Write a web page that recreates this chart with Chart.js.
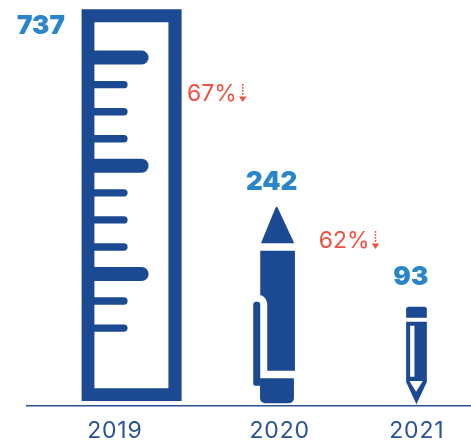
<!DOCTYPE html>
<html>
<head>
<meta charset="utf-8">
<title>Yearly totals</title>
<script src="https://cdn.jsdelivr.net/npm/chart.js@4/dist/chart.umd.min.js"></script>
<style>
  html, body { margin: 0; padding: 0; background: #ffffff; }
  canvas { display: block; }
</style>
</head>
<body>
<canvas id="yearChart" width="471" height="442"></canvas>
<script>
const years = ["2019", "2020", "2021"];
const totals = [737, 242, 93];
const drops = [67, 62];

const BLUE = "#1b4a92";
const VALUE_BLUE = "#2a86c9";
const RED = "#f0503f";
const AXIS_BLUE = "#2b5196";

// category centres as a share of the axis width, the years are not evenly spaced
const slotCenters = [0.198, 0.569, 0.878];

// y axis with a square root transform so the tall icon does not flatten the others
class SqrtScale extends Chart.LinearScale {
  getPixelForValue(value) {
    const a = Math.sqrt(this.min);
    const b = Math.sqrt(this.max);
    // bars start from 0, which is below the axis minimum here
    const v = Math.max(value, this.min);
    return this.getPixelForDecimal((Math.sqrt(v) - a) / (b - a));
  }
  getValueForPixel(pixel) {
    const a = Math.sqrt(this.min);
    const b = Math.sqrt(this.max);
    const s = a + this.getDecimalForPixel(pixel) * (b - a);
    return s * s;
  }
}
SqrtScale.id = "sqrt";
SqrtScale.defaults = Chart.LinearScale.defaults;

class SlotScale extends Chart.CategoryScale {
  getPixelForValue(value, index) {
    const i = typeof value === "number" ? value : index;
    return this.left + slotCenters[i] * this.width;
  }
}
SlotScale.id = "slots";
SlotScale.defaults = Chart.CategoryScale.defaults;

Chart.register(SqrtScale, SlotScale);

// icons are drawn around (0,0) = bar centre on the baseline, y going up is negative
function drawRuler(ctx) {
  ctx.beginPath();
  ctx.rect(-33.3, -396.7, 100, 391.7);
  ctx.rect(-20.5, -383.7, 74, 366);
  ctx.fill("evenodd");
  for (let i = 0; i < 11; i++) {
    const y = -348.4 + i * 27.05;
    const long = i % 4 === 0;
    const half = long ? 7 : 3.7;
    const end = long ? 33.7 : 12.7;
    ctx.beginPath();
    ctx.roundRect(-21, y - half, end + 21, half * 2, [0, half, half, 0]);
    ctx.fill();
  }
}

function drawPen(ctx) {
  // tip
  ctx.beginPath();
  ctx.moveTo(-18.7, -162.7);
  ctx.lineTo(-4.2, -198);
  ctx.quadraticCurveTo(-3, -200.5, -1.8, -198);
  ctx.lineTo(14.6, -162.7);
  ctx.closePath();
  ctx.fill();
  // barrel with the notch for the clip
  ctx.beginPath();
  ctx.moveTo(-19.4, -155.3);
  ctx.lineTo(15.3, -155.3);
  ctx.lineTo(15.3, -35.3);
  ctx.lineTo(-12.4, -35.3);
  ctx.lineTo(-12.4, -102);
  ctx.quadraticCurveTo(-13, -109, -19.4, -111);
  ctx.closePath();
  ctx.fill();
  // clip
  ctx.beginPath();
  ctx.roundRect(-26.4, -104.3, 7, 84, [3, 3, 0, 2]);
  ctx.fill();
  // end cap
  ctx.beginPath();
  ctx.roundRect(-19.6, -27.7, 33.9, 25, [0, 0, 5, 5]);
  ctx.fill();
}

function drawPencil(ctx) {
  ctx.beginPath();
  ctx.roundRect(-10.7, -99.3, 20.7, 11, [2.5, 2.5, 0, 0]);
  ctx.fill();
  ctx.beginPath();
  ctx.moveTo(-10.7, -84.3);
  ctx.lineTo(10, -84.3);
  ctx.lineTo(10, -24);
  ctx.lineTo(-0.4, -1.7);
  ctx.lineTo(-10.7, -24);
  ctx.closePath();
  ctx.rect(-6.7, -80.3, 4.3, 51);
  ctx.moveTo(-7.4, -25);
  ctx.lineTo(6, -25);
  ctx.lineTo(-0.7, -14.3);
  ctx.closePath();
  ctx.fill("evenodd");
}

const icons = [
  { draw: drawRuler, height: 397, labelX: -74, labelY: 17 },
  { draw: drawPen, height: 200, labelX: -8, labelY: -24 },
  { draw: drawPencil, height: 99.5, labelX: -6, labelY: -29 }
];

// where each drop label sits, relative to the bar it follows
const dropOffsets = [
  { x: 72, y: 92 },
  { x: 39, y: 42 }
];

function drawDownArrow(ctx, x, top, bottom) {
  ctx.fillStyle = RED;
  for (let y = top; y < bottom - 6; y += 3) {
    ctx.fillRect(x - 0.75, y, 1.5, 1.8);
  }
  ctx.beginPath();
  ctx.moveTo(x - 3.8, bottom - 5.5);
  ctx.lineTo(x + 3.8, bottom - 5.5);
  ctx.lineTo(x, bottom);
  ctx.closePath();
  ctx.fill();
}

const iconPlugin = {
  id: "iconPlugin",
  beforeDraw(chart) {
    // wider digit spacing for the year labels
    chart.ctx.letterSpacing = "0.8px";
  },
  afterDatasetsDraw(chart) {
    const ctx = chart.ctx;
    const bars = chart.getDatasetMeta(0).data;

    bars.forEach((bar, i) => {
      const icon = icons[i];
      const s = (bar.base - bar.y) / icon.height;
      ctx.save();
      ctx.translate(bar.x, bar.base);
      ctx.scale(s, s);
      ctx.fillStyle = BLUE;
      icon.draw(ctx);
      ctx.restore();

      ctx.save();
      ctx.letterSpacing = "0px";
      ctx.font = "900 26px Inter";
      ctx.fillStyle = VALUE_BLUE;
      ctx.textAlign = "center";
      ctx.textBaseline = "middle";
      ctx.fillText(String(totals[i]), bar.x + icon.labelX, bar.y + icon.labelY);
      ctx.restore();
    });

    drops.forEach((drop, i) => {
      const off = dropOffsets[i];
      const x = bars[i].x + off.x;
      const y = bars[i].y + off.y;
      ctx.save();
      ctx.letterSpacing = "0px";
      ctx.font = "400 23px Inter";
      ctx.fillStyle = RED;
      ctx.textAlign = "left";
      ctx.textBaseline = "alphabetic";
      const text = drop + "%";
      ctx.fillText(text, x, y);
      drawDownArrow(ctx, x + ctx.measureText(text).width + 6, y - 17, y + 1);
      ctx.restore();
    });
  }
};

new Chart(document.getElementById("yearChart"), {
  type: "bar",
  data: {
    labels: years,
    datasets: [
      {
        data: totals,
        backgroundColor: "transparent",
        borderWidth: 0
      }
    ]
  },
  options: {
    responsive: false,
    animation: false,
    layout: {
      padding: { left: 27, right: 0, top: 9, bottom: 0 }
    },
    plugins: {
      legend: { display: false },
      tooltip: { enabled: false }
    },
    scales: {
      x: {
        type: "slots",
        grid: { display: false, drawTicks: false },
        border: { color: AXIS_BLUE, width: 1.5 },
        afterFit(scale) {
          scale.height = 36;
        },
        ticks: {
          color: AXIS_BLUE,
          font: { family: "Inter", size: 23, weight: "400" },
          padding: 11,
          maxRotation: 0,
          autoSkip: false
        }
      },
      y: {
        type: "sqrt",
        display: false,
        min: 14.36,
        max: 737
      }
    }
  },
  plugins: [iconPlugin]
});
</script>
</body>
</html>
